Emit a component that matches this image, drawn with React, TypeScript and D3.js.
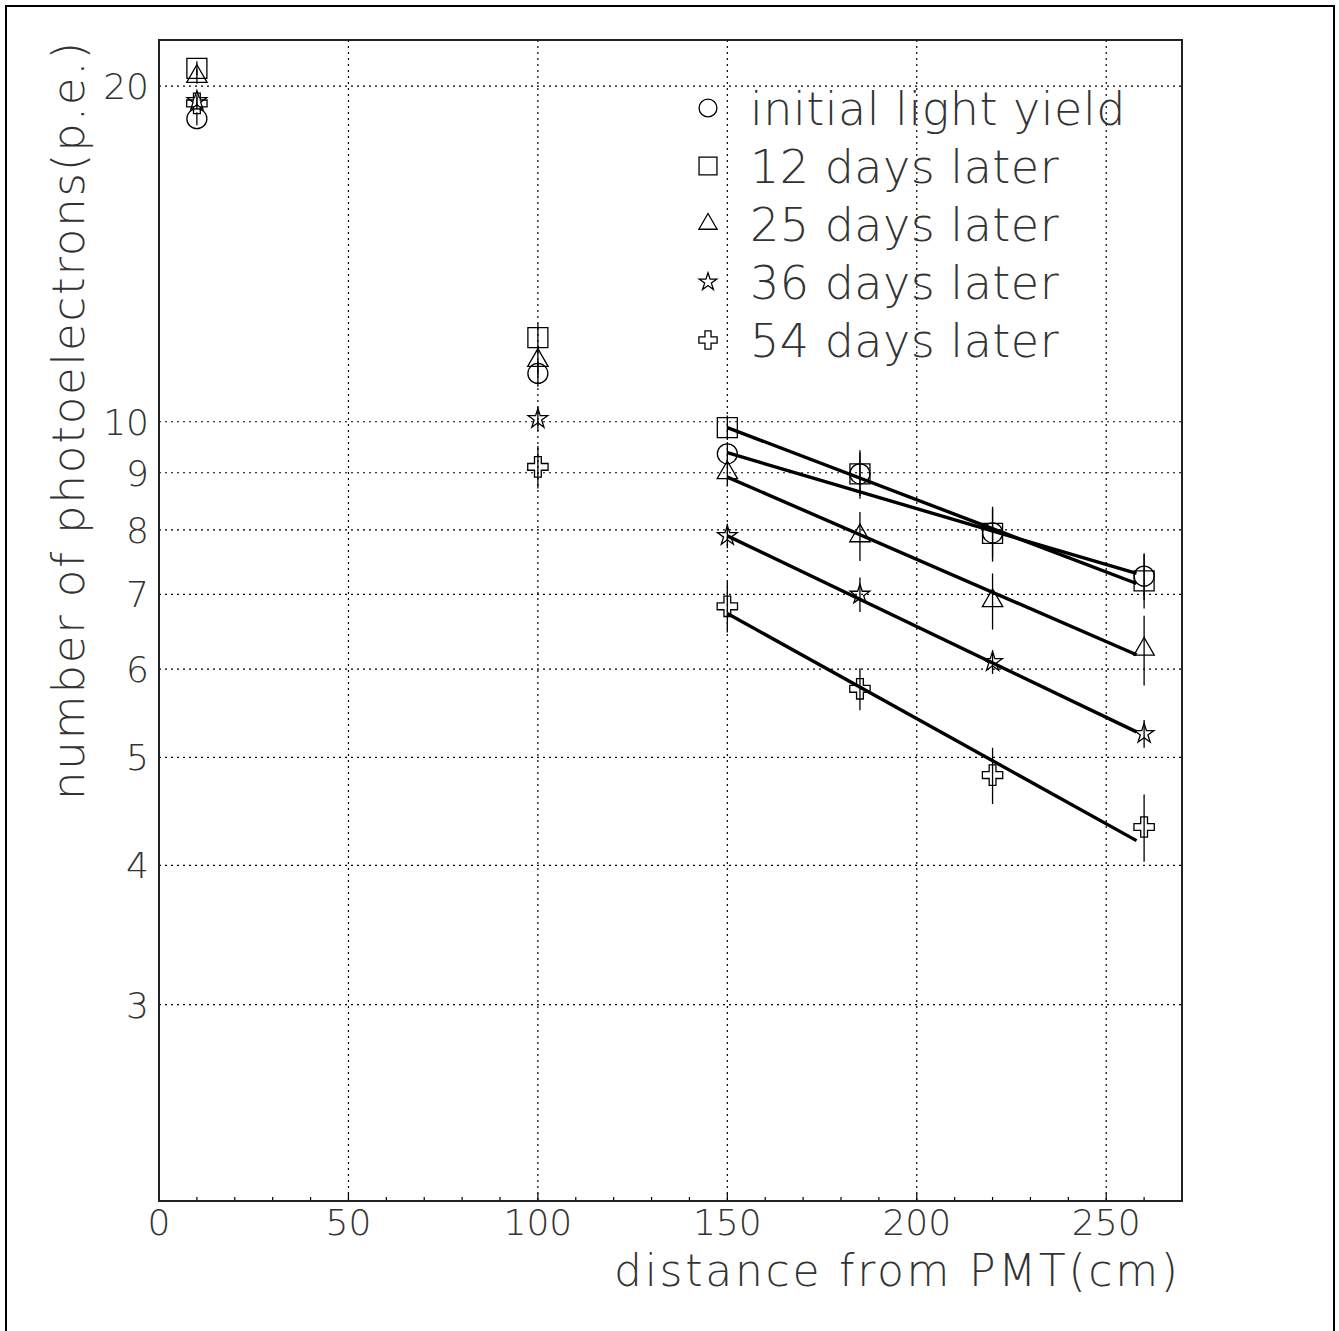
import React from "react";
import * as d3 from "d3";

// distance from PMT (cm)
const distances = [10, 100, 150, 185, 220, 260];

const seriesNames = [
  "initial light yield",
  "12 days later",
  "25 days later",
  "36 days later",
  "54 days later",
];

// photoelectrons per series
const initialYield = [18.7, 11.05, 9.36, 8.98, 7.95, 7.27];
const days12 = [20.75, 11.9, 9.88, 8.98, 7.94, 7.2];
const days25 = [20.4, 11.35, 9.0, 7.9, 6.91, 6.25];
const days36 = [19.4, 10.06, 7.9, 7.0, 6.09, 5.25];
const days54 = [19.3, 9.11, 6.83, 5.76, 4.82, 4.33];

// error bars
const initialErr = [0.25, 0.3, 0.2, 0.4, 0.4, 0.35];
const days12Err = [0.3, 0.35, 0.25, 0.45, 0.45, 0.4];
const days25Err = [0.3, 0.35, 0.25, 0.4, 0.4, 0.45];
const days36Err = [0.25, 0.25, 0.2, 0.25, 0.15, 0.15];
const days54Err = [0.25, 0.4, 0.36, 0.25, 0.28, 0.3];

// exponential fits, drawn from fitRange[0] to fitRange[1]
const fitRange = [150, 258];
const fitStart = [9.38, 9.88, 8.92, 7.9, 6.73];
const fitEnd = [7.31, 7.16, 6.18, 5.27, 4.21];

const xTicks = [0, 50, 100, 150, 200, 250];
const yTicks = [20, 10, 9, 8, 7, 6, 5, 4, 3];

const values = [initialYield, days12, days25, days36, days54];
const errors = [initialErr, days12Err, days25Err, days36Err, days54Err];
const symbols = [d3.symbolCircle, d3.symbolSquare, d3.symbolTriangle, d3.symbolStar, d3.symbolCross];
const symbolSizes = [314, 400, 180, 120, 230];

const W = 1339;
const H = 1331;
const m = { left: 159, right: 1182, top: 40, bottom: 1201 };
const font = "'DejaVu Sans', sans-serif";
const ink = "#333";

export default function App() {
  const x = d3.scaleLinear().domain([0, 270]).range([m.left, m.right]);
  const y = d3.scaleLog().domain([2, 22]).range([m.bottom, m.top]);
  const minor = d3.range(10, 270, 10).filter((d) => d % 50 !== 0);
  const sym = (i: number, k = 1) => d3.symbol(symbols[i], symbolSizes[i] * k)() as string;

  return (
    <svg
      width={W}
      height={H}
      style={{ position: "absolute", left: 0, top: 0, background: "#fff" }}
      fontFamily={font}
    >
      <rect x={6} y={6} width={1328} height={1330} fill="none" stroke="#000" strokeWidth={2} />

      {/* grid */}
      <g stroke="#000" strokeWidth={1.2} strokeDasharray="2,4">
        {xTicks.filter((d) => d > 0).map((d) => (
          <line key={"gx" + d} x1={x(d)} x2={x(d)} y1={m.top} y2={m.bottom} />
        ))}
        {yTicks.map((d) => (
          <line key={"gy" + d} x1={m.left} x2={m.right} y1={y(d)} y2={y(d)} />
        ))}
      </g>

      {/* ticks */}
      <g stroke="#000" strokeWidth={1.2}>
        {minor.map((d) => (
          <line key={"mt" + d} x1={x(d)} x2={x(d)} y1={m.bottom} y2={m.bottom - 4} />
        ))}
        {xTicks.map((d) => (
          <line key={"Mt" + d} x1={x(d)} x2={x(d)} y1={m.bottom} y2={m.bottom - 8} />
        ))}
      </g>

      <rect
        x={m.left}
        y={m.top}
        width={m.right - m.left}
        height={m.bottom - m.top}
        fill="none"
        stroke="#222"
        strokeWidth={2}
      />

      {/* tick labels */}
      <g fontSize={36} fontWeight={200} fill={ink}>
        {xTicks.map((d) => (
          <text key={"xl" + d} x={x(d)} y={1235} textAnchor="middle">
            {d}
          </text>
        ))}
        {yTicks.map((d) => (
          <text key={"yl" + d} x={149} y={y(d)} dy="0.36em" textAnchor="end">
            {d}
          </text>
        ))}
      </g>

      {/* axis titles */}
      <text
        x={1178}
        y={1286}
        textAnchor="end"
        fontSize={44}
        fontWeight={200}
        fill={ink}
        textLength={564}
        lengthAdjust="spacing"
      >
        distance from PMT(cm)
      </text>
      <text
        transform="translate(84,42) rotate(-90)"
        textAnchor="end"
        fontSize={45}
        fontWeight={200}
        fill={ink}
        textLength={758}
        lengthAdjust="spacing"
      >
        number of photoelectrons(p.e.)
      </text>

      {/* error bars */}
      <g stroke="#000" strokeWidth={1.3}>
        {values.map((vals, i) =>
          vals.map((v, j) => (
            <line
              key={`e${i}-${j}`}
              x1={x(distances[j])}
              x2={x(distances[j])}
              y1={y(v - errors[i][j])}
              y2={y(v + errors[i][j])}
            />
          ))
        )}
      </g>

      {/* markers */}
      <g fill="none" stroke="#000" strokeWidth={1.3}>
        {values.map((vals, i) =>
          vals.map((v, j) => (
            <path
              key={`p${i}-${j}`}
              d={sym(i)}
              transform={`translate(${x(distances[j])},${y(v)})`}
            />
          ))
        )}
      </g>

      {/* fits */}
      <g stroke="#000" strokeWidth={3.4} strokeLinecap="butt">
        {fitStart.map((s, i) => (
          <line
            key={"f" + i}
            x1={x(fitRange[0])}
            y1={y(s)}
            x2={x(fitRange[1])}
            y2={y(fitEnd[i])}
          />
        ))}
      </g>

      {/* legend */}
      <g>
        {seriesNames.map((name, i) => {
          const ly = 108 + i * 58;
          return (
            <g key={"lg" + i}>
              <path
                d={sym(i, 0.8)}
                transform={`translate(708,${ly})`}
                fill="none"
                stroke="#000"
                strokeWidth={1.3}
              />
              <text x={750} y={ly} dy="0.36em" fontSize={46} fontWeight={200} fill={ink} letterSpacing={0.5}>
                {name}
              </text>
            </g>
          );
        })}
      </g>
    </svg>
  );
}
